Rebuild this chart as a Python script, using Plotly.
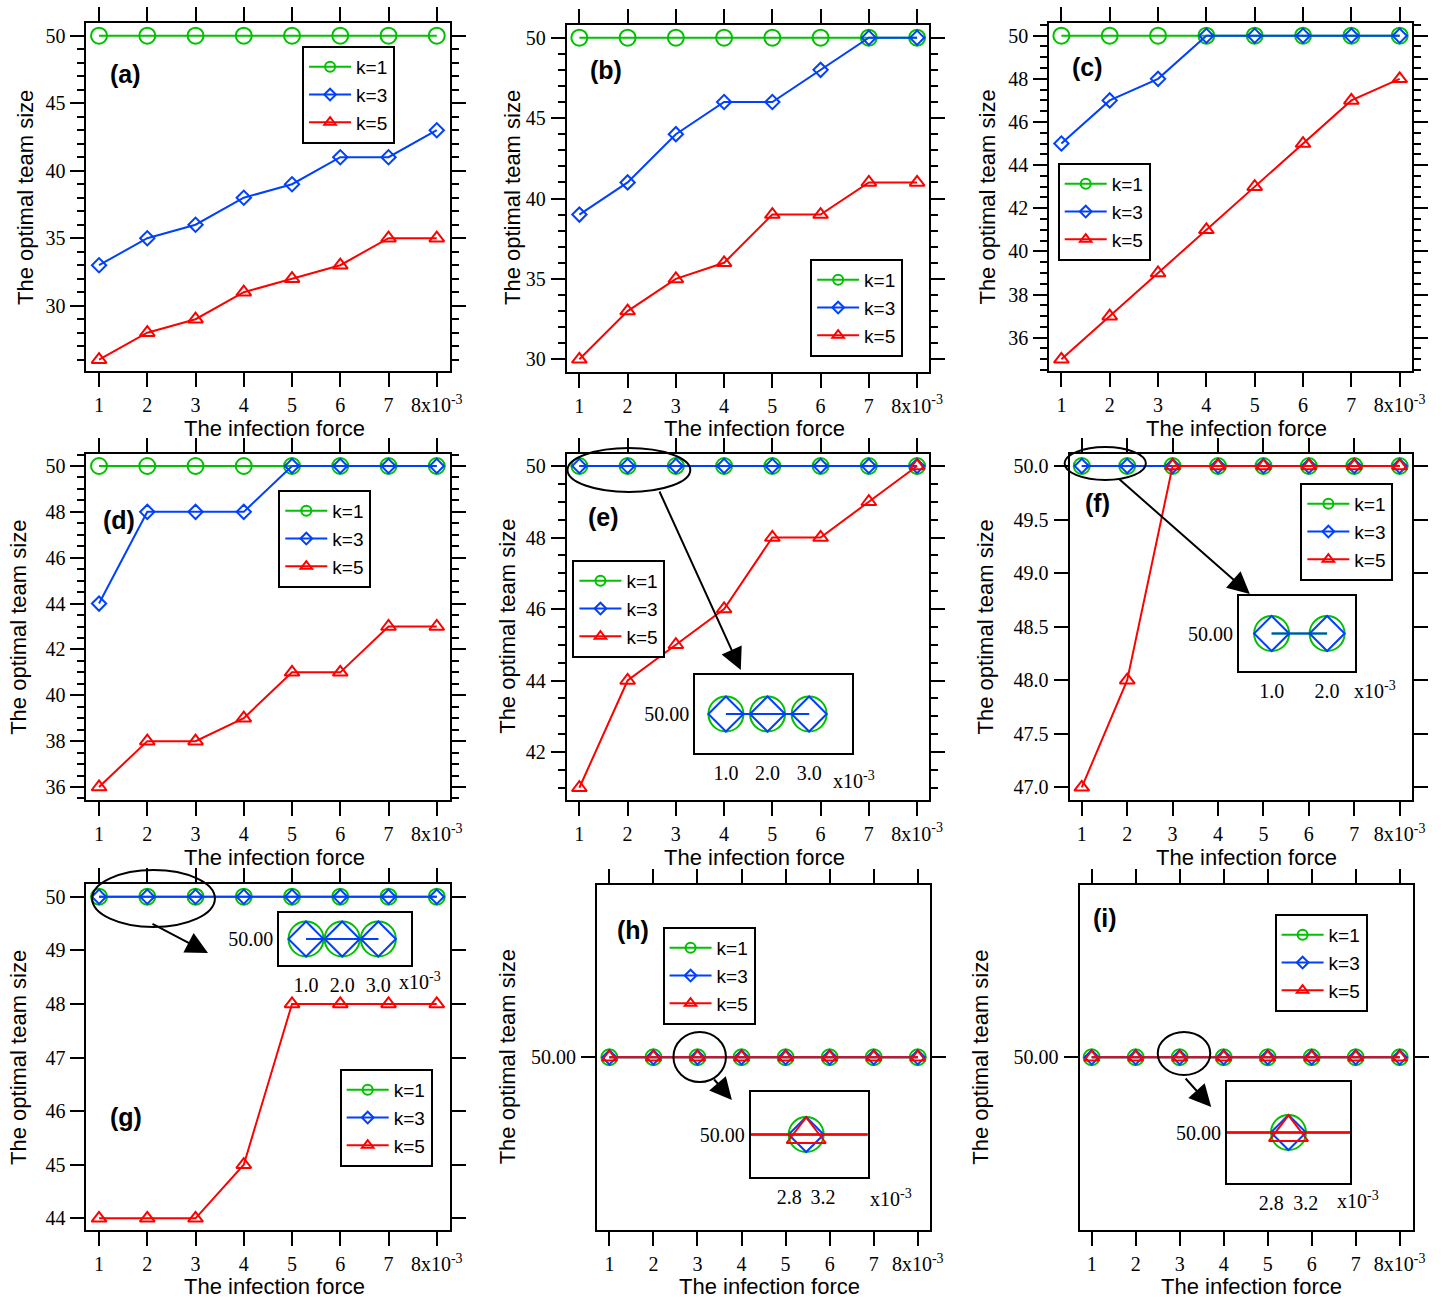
import plotly.graph_objects as go

W, H = 1454, 1298

# ---------------- data ----------------
force = [1, 2, 3, 4, 5, 6, 7, 8]
force_ticktext = ["1", "2", "3", "4", "5", "6", "7", "8x10<sup>-3</sup>"]
series_names = ["k=1", "k=3", "k=5"]

a_k1 = [50, 50, 50, 50, 50, 50, 50, 50]
a_k3 = [33, 35, 36, 38, 39, 41, 41, 43]
a_k5 = [26, 28, 29, 31, 32, 33, 35, 35]

b_k1 = [50, 50, 50, 50, 50, 50, 50, 50]
b_k3 = [39, 41, 44, 46, 46, 48, 50, 50]
b_k5 = [30, 33, 35, 36, 39, 39, 41, 41]

c_k1 = [50, 50, 50, 50, 50, 50, 50, 50]
c_k3 = [45, 47, 48, 50, 50, 50, 50, 50]
c_k5 = [35, 37, 39, 41, 43, 45, 47, 48]

d_k1 = [50, 50, 50, 50, 50, 50, 50, 50]
d_k3 = [44, 48, 48, 48, 50, 50, 50, 50]
d_k5 = [36, 38, 38, 39, 41, 41, 43, 43]

e_k1 = [50, 50, 50, 50, 50, 50, 50, 50]
e_k3 = [50, 50, 50, 50, 50, 50, 50, 50]
e_k5 = [41, 44, 45, 46, 48, 48, 49, 50]

f_k1 = [50, 50, 50, 50, 50, 50, 50, 50]
f_k3 = [50, 50, 50, 50, 50, 50, 50, 50]
f_k5 = [47, 48, 50, 50, 50, 50, 50, 50]

g_k1 = [50, 50, 50, 50, 50, 50, 50, 50]
g_k3 = [50, 50, 50, 50, 50, 50, 50, 50]
g_k5 = [44, 44, 44, 45, 48, 48, 48, 48]

h_k1 = [50, 50, 50, 50, 50, 50, 50, 50]
h_k3 = [50, 50, 50, 50, 50, 50, 50, 50]
h_k5 = [50, 50, 50, 50, 50, 50, 50, 50]

i_k1 = [50, 50, 50, 50, 50, 50, 50, 50]
i_k3 = [50, 50, 50, 50, 50, 50, 50, 50]
i_k5 = [50, 50, 50, 50, 50, 50, 50, 50]

inset_e_ticks = ["1.0", "2.0", "3.0"]
inset_f_ticks = ["1.0", "2.0"]
inset_g_ticks = ["1.0", "2.0", "3.0"]
inset_hi_tickvals = [2.8, 3.2]
inset_hi_ticks = ["2.8", "3.2"]
inset_value = 50
inset_value_label = "50.00"
x_title = "The infection force"
y_title = "The optimal team size"

# ---------------- styles ----------------
COLORS = ["#00C000", "#0040FF", "#FF0000"]
SYMBOLS = ["circle-open", "diamond-open", "triangle-up-open"]
MAIN_SIZES = [16, 11, 13]
LEG_SIZES = [10, 9, 10]
INSET_SIZES = [35, 27, 34]
SERIF = "Liberation Serif"
SANS = "Liberation Sans"

panels = [
    dict(lab="(a)", data=(a_k1, a_k3, a_k5), box=(87.3, 454, 23.3, 371), xt=(100, 441),
         ycal=((50, 35.7), (30, 305.7)), tick0=30, dtick=5, minor=1, fmt="d",
         legend=(305, 46), label=(127, 74), ytx=25, xtt=(277, 428)),
    dict(lab="(b)", data=(b_k1, b_k3, b_k5), box=(572.3, 938.5, 24.5, 371.5), xt=(585, 926),
         ycal=((50, 37.7), (30, 359.3)), tick0=30, dtick=5, minor=1, fmt="d",
         legend=(818, 259), label=(612, 70), ytx=517, xtt=(762, 428)),
    dict(lab="(c)", data=(c_k1, c_k3, c_k5), box=(1059.5, 1426, 23.3, 371), xt=(1071.7, 1413.3),
         ycal=((50, 35.7), (36, 337.7)), tick0=36, dtick=2, minor=0.5, fmt="d",
         legend=(1068, 163), label=(1098, 67), ytx=997, xtt=(1249, 428)),
    dict(lab="(d)", data=(d_k1, d_k3, d_k5), box=(87.3, 454, 454, 800), xt=(100, 441),
         ycal=((50, 466), (36, 787)), tick0=36, dtick=2, minor=0.5, fmt="d",
         legend=(281, 490), label=(120, 520), ytx=18, xtt=(277, 857)),
    dict(lab="(e)", data=(e_k1, e_k3, e_k5), box=(572.3, 938.3, 454, 799.5), xt=(585, 926),
         ycal=((50, 466), (42, 752)), tick0=42, dtick=2, minor=0.5, fmt="d",
         legend=(578, 560), label=(609, 517), ytx=513, xtt=(762, 857)),
    dict(lab="(f)", data=(f_k1, f_k3, f_k5), box=(1080, 1425.7, 454, 800), xt=(1092.3, 1413.3),
         ycal=((50, 466), (47, 787.3)), tick0=47, dtick=0.5, minor=None, fmt=".1f",
         legend=(1313, 483), label=(1108, 503), ytx=995, xtt=(1259, 857)),
    dict(lab="(g)", data=(g_k1, g_k3, g_k5), box=(87.3, 454, 884.3, 1230), xt=(100, 441),
         ycal=((50, 896.7), (44, 1218.3)), tick0=44, dtick=1, minor=None, fmt="d",
         legend=(343, 1069), label=(127, 1117), ytx=18, xtt=(277, 1286)),
    dict(lab="(h)", data=(h_k1, h_k3, h_k5), box=(602.7, 939, 884.5, 1230), xt=(615.3, 926.7),
         yr=(49, 51), tick0=50, dtick=10, minor=None, fmt=".2f",
         legend=(669, 927), label=(639, 930), ytx=512, xtt=(777, 1286)),
    dict(lab="(i)", data=(i_k1, i_k3, i_k5), box=(1090, 1426.7, 884.5, 1230), xt=(1102.3, 1413.3),
         yr=(49, 51), tick0=50, dtick=10, minor=None, fmt=".2f",
         legend=(1287, 914), label=(1116, 918), ytx=990, xtt=(1264, 1286)),
]

# inset definitions: parent panel index, number of points shown, box px, x reference, px/unit, ticks
insets = [
    dict(p=4, npts=3, box=(702, 860, 675, 753), xref=(1, 733), ux=42,
         tv=force[:3], tt=inset_e_ticks, x10=(862, 780)),
    dict(p=5, npts=2, box=(1251, 1368, 596, 671), xref=(1, 1284), ux=56,
         tv=force[:2], tt=inset_f_ticks, x10=(1388, 690)),
    dict(p=6, npts=3, box=(282, 415, 913, 965), xref=(1, 309), ux=36.5,
         tv=force[:3], tt=inset_g_ticks, x10=(424, 981)),
    dict(p=7, npts=8, box=(758, 876, 1092, 1177), xref=(3, 814), ux=85,
         tv=inset_hi_tickvals, tt=inset_hi_ticks, x10=(900, 1198)),
    dict(p=8, npts=8, box=(1239, 1363, 1082, 1183), xref=(3, 1301), ux=87.5,
         tv=inset_hi_tickvals, tt=inset_hi_ticks, x10=(1371, 1200)),
]

# ellipses (px) and arrows (tail -> head, px)
ellipses = [(573, 448, 697, 492), (1075, 447, 1157, 480), (93, 870, 217, 927),
            (680, 1032, 733, 1082), (1169, 1032, 1222, 1075)]
arrows = [((666, 490), (748, 670)), ((1130, 478), (1262, 594)), ((153, 923), (210, 953)),
          ((720, 1078), (739, 1100)), ((1196, 1077), (1223, 1107))]


def fx(px):
    return px / W


def fy(py):
    return 1 - py / H


fig = go.Figure()
layout = dict(width=W, height=H, margin=dict(l=0, r=0, t=0, b=0), autosize=False,
              paper_bgcolor="white", plot_bgcolor="white", showlegend=True)
annotations = []
shapes = []

AX = dict(showline=True, linecolor="black", linewidth=2, mirror="ticks", ticks="outside",
          tickcolor="black", tickwidth=2, showgrid=False, zeroline=False)
TICKFONT = dict(family=SERIF, size=20, color="black")

for n, p in enumerate(panels, start=1):
    sfx = "" if n == 1 else str(n)
    x0, x1, y0, y1 = p["box"]
    t1, t8 = p["xt"]
    unit = (t8 - t1) / (force[-1] - force[0])
    xr = [force[0] - (t1 - x0) / unit, force[-1] + (x1 - t8) / unit]
    if "ycal" in p:
        (va, pa), (vb, pb) = p["ycal"]
        uy = (pb - pa) / (va - vb)
        yr = [vb - (y1 - pb) / uy, va + (pa - y0) / uy]
    else:
        yr = list(p["yr"])
    layout["xaxis" + sfx] = dict(AX, domain=[fx(x0), fx(x1)], anchor="y" + sfx, range=xr,
                                 tickmode="array", tickvals=force, ticktext=force_ticktext,
                                 ticklen=14, tickfont=TICKFONT, ticklabelstandoff=1)
    yax = dict(AX, domain=[fy(y1), fy(y0)], anchor="x" + sfx, range=yr, tickmode="linear",
               tick0=p["tick0"], dtick=p["dtick"], tickformat=p["fmt"], ticklen=14,
               tickfont=TICKFONT, ticklabelstandoff=1)
    if p["minor"]:
        yax["minor"] = dict(dtick=p["minor"], tick0=p["tick0"], ticks="outside", ticklen=7,
                            tickwidth=2, tickcolor="black")
    layout["yaxis" + sfx] = yax

    leg = "legend" + sfx
    lx, ly = p["legend"]
    layout[leg] = dict(x=fx(lx), y=fy(ly), xanchor="left", yanchor="top", bordercolor="black",
                       borderwidth=2, bgcolor="white", tracegroupgap=0, itemwidth=42,
                       font=dict(family=SANS, size=19, color="black"))

    for k, ys in enumerate(p["data"]):
        fig.add_trace(go.Scatter(
            x=force, y=ys, mode="lines+markers", xaxis="x" + sfx, yaxis="y" + sfx,
            line=dict(color=COLORS[k], width=2),
            marker=dict(symbol=SYMBOLS[k], size=MAIN_SIZES[k], color=COLORS[k],
                        line=dict(width=2, color=COLORS[k])),
            showlegend=False, cliponaxis=False, name=series_names[k]))
    for k in range(3):
        fig.add_trace(go.Scatter(
            x=[None], y=[None], mode="lines+markers", xaxis="x" + sfx, yaxis="y" + sfx,
            name=series_names[k], legend=leg, showlegend=True,
            line=dict(color=COLORS[k], width=2),
            marker=dict(symbol=SYMBOLS[k], size=LEG_SIZES[k], color=COLORS[k],
                        line=dict(width=2, color=COLORS[k]))))

    # panel label
    annotations.append(dict(text="<b>%s</b>" % p["lab"], x=fx(p["label"][0]), y=fy(p["label"][1]),
                            xref="paper", yref="paper", showarrow=False, xanchor="center",
                            yanchor="middle", font=dict(family=SANS, size=25, color="black")))
    # axis titles
    annotations.append(dict(text=x_title, x=fx(p["xtt"][0]), y=fy(p["xtt"][1]), xref="paper",
                            yref="paper", showarrow=False, xanchor="center", yanchor="middle",
                            font=dict(family=SANS, size=22, color="black")))
    annotations.append(dict(text=y_title, x=fx(p["ytx"]), y=fy((y0 + y1) / 2), xref="paper",
                            yref="paper", showarrow=False, xanchor="center", yanchor="middle",
                            textangle=-90, font=dict(family=SANS, size=22, color="black")))

# insets
for j, ins in enumerate(insets):
    n = 10 + j
    sfx = str(n)
    p = panels[ins["p"]]
    x0, x1, y0, y1 = ins["box"]
    xv, xp = ins["xref"]
    ux = ins["ux"]
    xr = [xv - (xp - x0) / ux, xv + (x1 - xp) / ux]
    cy = (y0 + y1) / 2
    uy = 40.0
    yr = [inset_value - (y1 - cy) / uy, inset_value + (cy - y0) / uy]
    layout["xaxis" + sfx] = dict(domain=[fx(x0), fx(x1)], anchor="y" + sfx, range=xr,
                                 showline=True, mirror=True, linecolor="black", linewidth=2,
                                 ticks="", showgrid=False, zeroline=False, tickmode="array",
                                 tickvals=ins["tv"], ticktext=ins["tt"], tickfont=TICKFONT,
                                 ticklabelstandoff=1)
    layout["yaxis" + sfx] = dict(domain=[fy(y1), fy(y0)], anchor="x" + sfx, range=yr,
                                 showline=True, mirror=True, linecolor="black", linewidth=2,
                                 ticks="", showgrid=False, zeroline=False, tickmode="array",
                                 tickvals=[inset_value], ticktext=[inset_value_label],
                                 tickfont=TICKFONT, ticklabelstandoff=0)
    m = ins["npts"]
    for k, ys in enumerate(p["data"]):
        fig.add_trace(go.Scatter(
            x=force[:m], y=ys[:m], mode="lines+markers", xaxis="x" + sfx, yaxis="y" + sfx,
            line=dict(color=COLORS[k], width=2),
            marker=dict(symbol=SYMBOLS[k], size=INSET_SIZES[k], color=COLORS[k],
                        line=dict(width=2, color=COLORS[k])),
            showlegend=False, cliponaxis=True))
    annotations.append(dict(text="x10<sup>-3</sup>", x=fx(ins["x10"][0]), y=fy(ins["x10"][1]),
                            xref="paper", yref="paper", showarrow=False, xanchor="center",
                            yanchor="middle", font=dict(family=SERIF, size=20, color="black")))

for (ex0, ey0, ex1, ey1) in ellipses:
    shapes.append(dict(type="circle", xref="paper", yref="paper", x0=fx(ex0), x1=fx(ex1),
                       y0=fy(ey1), y1=fy(ey0), line=dict(color="black", width=2), layer="above"))

for (tail, head) in arrows:
    annotations.append(dict(text="", x=fx(head[0]), y=fy(head[1]), xref="paper", yref="paper",
                            showarrow=True, ax=tail[0] - head[0], ay=tail[1] - head[1],
                            axref="pixel", ayref="pixel", arrowhead=2, arrowsize=2.2,
                            arrowwidth=2, arrowcolor="black", standoff=0, startstandoff=0))

layout["annotations"] = annotations
layout["shapes"] = shapes
fig.update_layout(**layout)
fig.write_html(
    "out.html",
    config={"displayModeBar": False, "responsive": False},
    post_script=("document.documentElement.style.overflow='hidden';"
                 "document.body.style.overflow='hidden';"
                 "document.body.style.margin='0';document.body.style.padding='0';"),
)
